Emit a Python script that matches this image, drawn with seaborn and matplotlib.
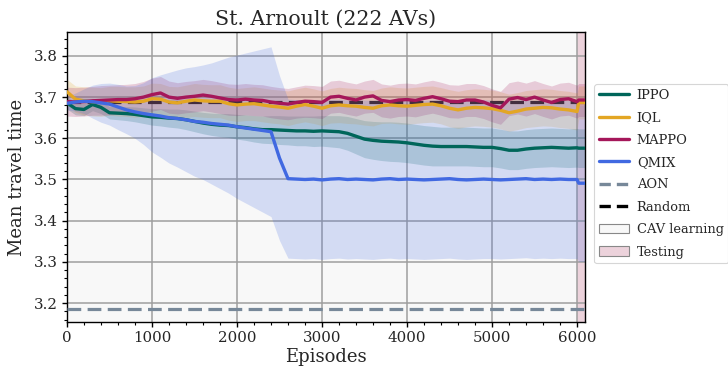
import numpy as np
import pandas as pd
import matplotlib
matplotlib.use("Agg")
import matplotlib.pyplot as plt
from matplotlib.lines import Line2D
from matplotlib.patches import Patch
from matplotlib.ticker import MultipleLocator
import seaborn as sns

# ---------------- data ----------------
episodes = list(range(0, 6001, 100)) + [6020, 6090]

ippo_mean = [3.686, 3.672, 3.670, 3.682, 3.675, 3.662, 3.661, 3.660, 3.658, 3.655,
             3.652, 3.651, 3.649, 3.648, 3.645, 3.641, 3.637, 3.634, 3.632, 3.631,
             3.628, 3.626, 3.623, 3.621, 3.621, 3.620, 3.619, 3.618, 3.618, 3.617,
             3.618, 3.617, 3.616, 3.612, 3.605, 3.598, 3.595, 3.593, 3.592, 3.591,
             3.589, 3.586, 3.583, 3.581, 3.580, 3.580, 3.580, 3.580, 3.579, 3.578,
             3.578, 3.575, 3.571, 3.571, 3.574, 3.576, 3.577, 3.578, 3.577, 3.576,
             3.577, 3.576, 3.576]
ippo_std = [0.015, 0.015, 0.015, 0.015, 0.015, 0.015, 0.016, 0.017, 0.018, 0.019,
            0.020, 0.021, 0.022, 0.023, 0.024, 0.025, 0.026, 0.027, 0.028, 0.029,
            0.030, 0.031, 0.032, 0.033, 0.034, 0.035, 0.035, 0.036, 0.036, 0.037,
            0.037, 0.038, 0.039, 0.041, 0.043, 0.045, 0.046, 0.047, 0.048, 0.048,
            0.048, 0.048, 0.048, 0.048, 0.047, 0.047, 0.047, 0.047, 0.047, 0.047,
            0.047, 0.047, 0.047, 0.047, 0.047, 0.047, 0.047, 0.047, 0.047, 0.047,
            0.047, 0.047, 0.047]

iql_mean = [3.713, 3.695, 3.691, 3.689, 3.688, 3.691, 3.690, 3.689, 3.688, 3.690,
            3.696, 3.695, 3.688, 3.686, 3.690, 3.693, 3.691, 3.690, 3.690, 3.684,
            3.681, 3.683, 3.684, 3.681, 3.678, 3.676, 3.673, 3.678, 3.682, 3.678,
            3.673, 3.679, 3.681, 3.679, 3.678, 3.675, 3.673, 3.679, 3.681, 3.679,
            3.678, 3.680, 3.682, 3.683, 3.679, 3.673, 3.669, 3.673, 3.675, 3.674,
            3.672, 3.668, 3.662, 3.666, 3.671, 3.673, 3.675, 3.674, 3.671, 3.669,
            3.665, 3.687, 3.687]
iql_std = [0.030, 0.032, 0.034, 0.035, 0.035, 0.035, 0.036, 0.036, 0.037, 0.037,
           0.038, 0.038, 0.038, 0.039, 0.039, 0.040, 0.040, 0.040, 0.040, 0.040,
           0.040, 0.040, 0.041, 0.041, 0.041, 0.041, 0.042, 0.042, 0.042, 0.042,
           0.042, 0.042, 0.043, 0.043, 0.043, 0.043, 0.043, 0.043, 0.044, 0.044,
           0.044, 0.044, 0.044, 0.044, 0.044, 0.045, 0.045, 0.045, 0.045, 0.045,
           0.045, 0.045, 0.045, 0.045, 0.045, 0.045, 0.045, 0.045, 0.045, 0.045,
           0.045, 0.040, 0.040]

mappo_mean = [3.689, 3.688, 3.689, 3.691, 3.692, 3.693, 3.694, 3.694, 3.696, 3.700,
              3.706, 3.710, 3.700, 3.697, 3.700, 3.702, 3.705, 3.702, 3.698, 3.694,
              3.693, 3.695, 3.693, 3.692, 3.688, 3.685, 3.683, 3.687, 3.690, 3.689,
              3.687, 3.700, 3.702, 3.697, 3.693, 3.700, 3.703, 3.692, 3.689, 3.693,
              3.694, 3.692, 3.697, 3.701, 3.696, 3.690, 3.689, 3.693, 3.693, 3.688,
              3.680, 3.674, 3.695, 3.699, 3.694, 3.700, 3.693, 3.687, 3.694, 3.696,
              3.689, 3.693, 3.693]
mappo_std = [0.035, 0.035, 0.035, 0.035, 0.036, 0.036, 0.036, 0.037, 0.037, 0.038,
             0.040, 0.040, 0.039, 0.038, 0.038, 0.038, 0.038, 0.038, 0.038, 0.038,
             0.038, 0.038, 0.038, 0.038, 0.038, 0.038, 0.038, 0.038, 0.039, 0.039,
             0.039, 0.039, 0.039, 0.039, 0.039, 0.039, 0.040, 0.040, 0.040, 0.040,
             0.040, 0.040, 0.040, 0.040, 0.040, 0.040, 0.040, 0.040, 0.040, 0.040,
             0.040, 0.040, 0.040, 0.040, 0.040, 0.040, 0.040, 0.040, 0.040, 0.040,
             0.040, 0.040, 0.040]

qmix_mean = [3.685, 3.688, 3.690, 3.689, 3.686, 3.683, 3.676, 3.669, 3.664, 3.660,
             3.657, 3.654, 3.650, 3.648, 3.645, 3.641, 3.639, 3.636, 3.634, 3.632,
             3.628, 3.625, 3.622, 3.619, 3.616, 3.552, 3.502, 3.501, 3.500, 3.501,
             3.499, 3.501, 3.502, 3.500, 3.501, 3.500, 3.499, 3.501, 3.502, 3.500,
             3.501, 3.500, 3.499, 3.500, 3.501, 3.502, 3.500, 3.499, 3.500, 3.501,
             3.500, 3.499, 3.500, 3.501, 3.502, 3.500, 3.501, 3.500, 3.501, 3.500,
             3.500, 3.491, 3.491]
qmix_std = [0.016, 0.022, 0.030, 0.040, 0.047, 0.051, 0.055, 0.058, 0.064, 0.075,
            0.090, 0.100, 0.110, 0.118, 0.126, 0.133, 0.139, 0.147, 0.156, 0.165,
            0.174, 0.182, 0.190, 0.198, 0.206, 0.200, 0.193, 0.193, 0.193, 0.193,
            0.193, 0.193, 0.193, 0.193, 0.193, 0.193, 0.193, 0.193, 0.193, 0.193,
            0.193, 0.193, 0.193, 0.193, 0.193, 0.193, 0.193, 0.193, 0.193, 0.193,
            0.192, 0.192, 0.192, 0.192, 0.192, 0.192, 0.192, 0.192, 0.192, 0.192,
            0.192, 0.190, 0.190]

aon_value = 3.185
random_value = 3.688
testing_start = 6000
x_max = 6094

algorithms = ["IPPO", "IQL", "MAPPO", "QMIX"]
means = [ippo_mean, iql_mean, mappo_mean, qmix_mean]
stds = [ippo_std, iql_std, mappo_std, qmix_std]
colors = ["#00665a", "#e3a624", "#a5175a", "#4169e1"]

# ---------------- plot ----------------
sns.set_theme(style="ticks")
plt.rcParams["font.family"] = ["DejaVu Serif"]

fig = plt.figure(figsize=(7.28, 3.71), dpi=100)
ax = fig.add_axes([0.092, 0.132, 0.7116, 0.7817])
ax.set_facecolor("#f8f8f8")

ax.axvspan(testing_start, x_max, color="#ecd2db", zorder=0.5, lw=0)

frames = []
for name, m in zip(algorithms, means):
    frames.append(pd.DataFrame({"Episodes": episodes, "value": m, "alg": name}))
df = pd.concat(frames, ignore_index=True)

ax.axhline(random_value, color="black", lw=2.3, dashes=(4.3, 2), zorder=1.5)
ax.axhline(aon_value, color="#778899", lw=2.3, dashes=(4.3, 2), zorder=3)

for m, s, c in zip(means, stds, colors):
    m = np.array(m); s = np.array(s)
    ax.fill_between(episodes, m - s, m + s, color=c, alpha=0.2, lw=0, zorder=2)

sns.lineplot(data=df, x="Episodes", y="value", hue="alg", palette=colors,
             hue_order=algorithms, lw=2.4, ax=ax, legend=False, zorder=4)

ax.set_xlim(0, x_max)
ax.set_ylim(3.154, 3.858)
ax.xaxis.set_major_locator(MultipleLocator(1000))
ax.xaxis.set_minor_locator(MultipleLocator(200))
ax.yaxis.set_major_locator(MultipleLocator(0.1))
ax.yaxis.set_minor_locator(MultipleLocator(0.02))
ax.grid(True, which="major", color="#9e9e9e", lw=1.1, zorder=1)
ax.set_axisbelow(True)
ax.tick_params(axis="both", which="major", labelsize=10.8, length=3.5, width=1,
               color="black", direction="out", pad=3)
ax.tick_params(axis="both", which="minor", length=2, width=0.8, color="black")
for sp in ax.spines.values():
    sp.set_color("black")
    sp.set_linewidth(1.0)

ax.set_xlabel("Episodes", fontsize=13, labelpad=2)
ax.set_ylabel("Mean travel time", fontsize=13, labelpad=6)
ax.set_title("St. Arnoult (222 AVs)", fontsize=14.8, pad=5)

handles = [Line2D([0], [0], color=c, lw=2.4) for c in colors]
handles += [Line2D([0], [0], color="#778899", lw=2.4, dashes=(3.4, 1.8)),
            Line2D([0], [0], color="black", lw=2.4, dashes=(3.4, 1.8)),
            Patch(facecolor="#f8f8f8", edgecolor="#888888", lw=0.8),
            Patch(facecolor="#ecd2db", edgecolor="#888888", lw=0.8)]
labels = algorithms + ["AON", "Random", "CAV learning", "Testing"]
leg = ax.legend(handles, labels, loc="upper left", bbox_to_anchor=(1.018, 0.82),
                fontsize=9.4, handlelength=2.3, handletextpad=0.6,
                borderpad=0.35, labelspacing=0.72, frameon=True, fancybox=True,
                borderaxespad=0)
leg.get_frame().set_edgecolor("#cccccc")
leg.get_frame().set_linewidth(0.8)

fig.savefig("out.png", dpi=100)
